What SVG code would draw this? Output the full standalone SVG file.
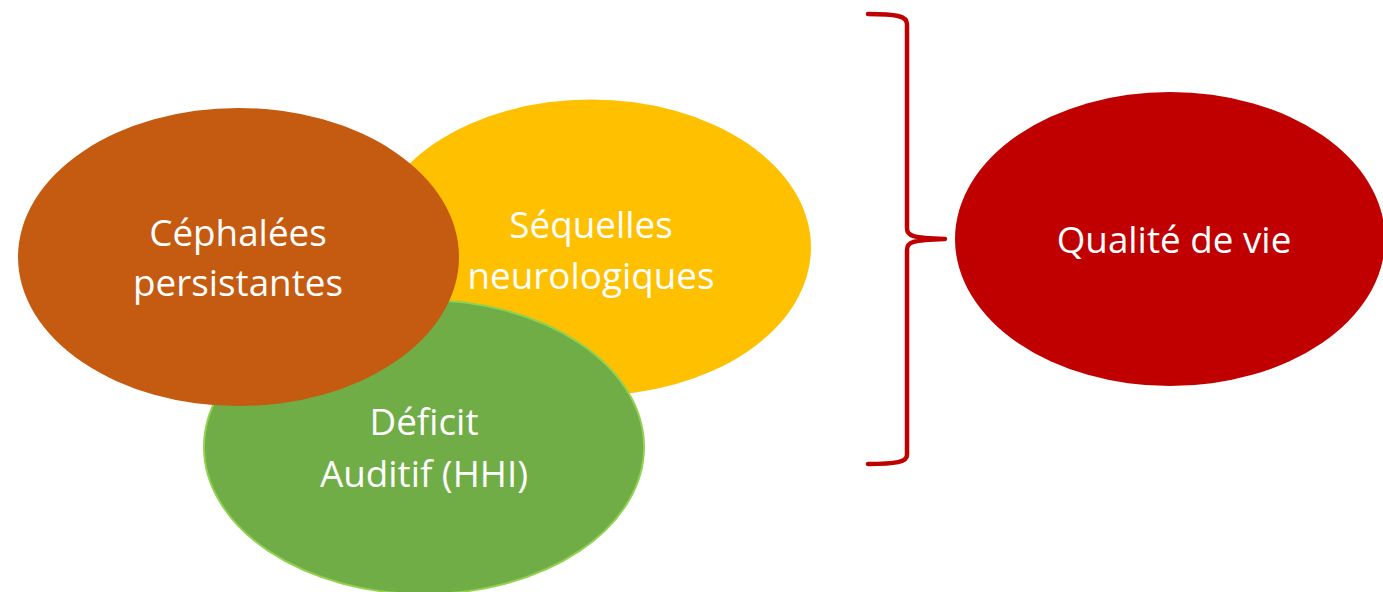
<svg xmlns="http://www.w3.org/2000/svg" width="1383" height="592" viewBox="0 0 1383 592">
<style>
.t{font-family:"Open Sans","Noto Sans","DejaVu Sans",sans-serif;font-size:36.8px;fill:#ffffff;text-anchor:middle}
</style>
<rect width="1383" height="592" fill="#ffffff"/>
<g id="sequelles">
<ellipse cx="591" cy="247.5" rx="220" ry="148" fill="#FFC000"/>
<text class="t" x="591" y="238">Séquelles</text>
<text class="t" x="591" y="289">neurologiques</text>
</g>
<g id="deficit">
<ellipse cx="424" cy="447" rx="220" ry="147" fill="#70AD47" stroke="#92D050" stroke-width="2"/>
<text class="t" x="424" y="435">Déficit</text>
<text class="t" x="424" y="487">Auditif (HHI)</text>
</g>
<g id="cephalees">
<ellipse cx="238.5" cy="257" rx="220.5" ry="149" fill="#C55A11"/>
<text class="t" x="238" y="246">Céphalées</text>
<text class="t" x="238" y="296">persistantes</text>
</g>
<g id="qualite">
<ellipse cx="1170" cy="239" rx="215" ry="147" fill="#C00000"/>
<text class="t" x="1174" y="253">Qualité de vie</text>
</g>
<g id="connectors">
<path d="M868,14 C896,14 907,16 907,24 L907,228 C907,236 912,238 945,239 C912,240 907,242 907,250 L907,455 C907,462 896,464 868,464" fill="none" stroke="#C00000" stroke-width="4.5" stroke-linecap="round" stroke-linejoin="round"/>
</g>
</svg>
